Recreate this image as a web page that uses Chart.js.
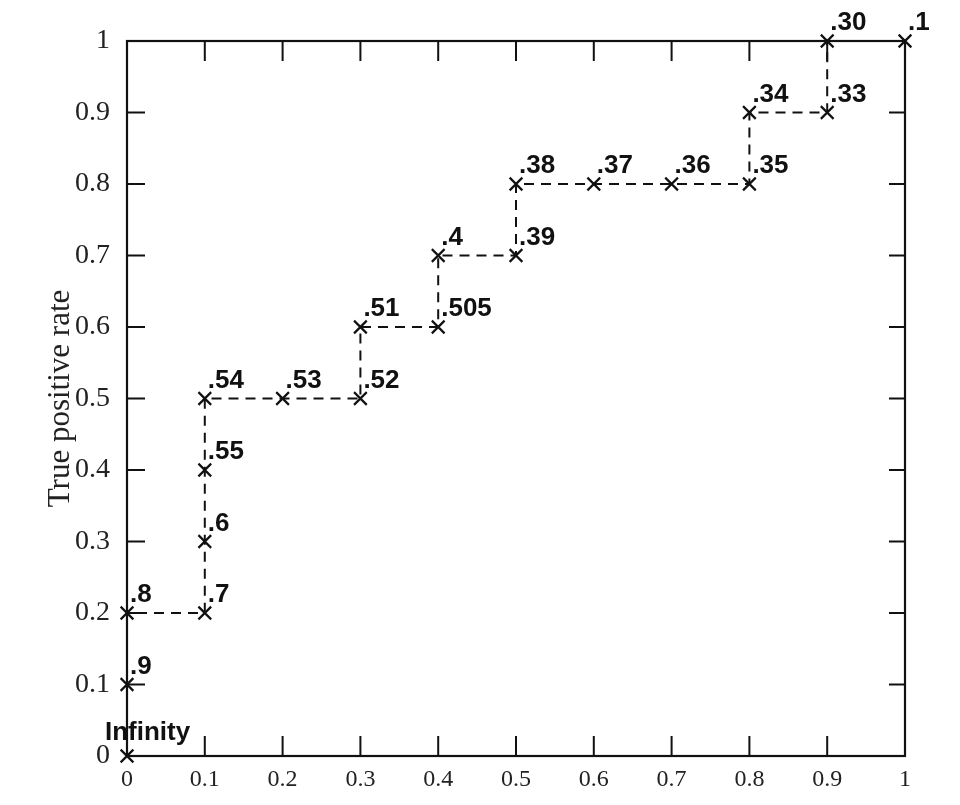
<!DOCTYPE html>
<html>
<head>
<meta charset="utf-8">
<script src="https://cdn.jsdelivr.net/npm/chart.js@4"></script>
<style>
  html, body { margin: 0; padding: 0; background: #fff; }
  #wrap { width: 960px; height: 805px; }
</style>
</head>
<body>
<div id="wrap"><canvas id="c" width="960" height="805"></canvas></div>
<script>
// ---- data ----
const fpr = [0, 0, 0, 0.1, 0.1, 0.1, 0.1, 0.2, 0.3, 0.3, 0.4, 0.4, 0.5, 0.5, 0.6, 0.7, 0.8, 0.8, 0.9, 0.9, 1];
const tpr = [0, 0.1, 0.2, 0.2, 0.3, 0.4, 0.5, 0.5, 0.5, 0.6, 0.6, 0.7, 0.7, 0.8, 0.8, 0.8, 0.8, 0.9, 0.9, 1, 1];
const thresholds = ['Infinity', '.9', '.8', '.7', '.6', '.55', '.54', '.53', '.52', '.51', '.505', '.4', '.39', '.38', '.37', '.36', '.35', '.34', '.33', '.30', '.1'];
const tickValues = [0, 0.1, 0.2, 0.3, 0.4, 0.5, 0.6, 0.7, 0.8, 0.9, 1];
const tickLabels = ['0', '0.1', '0.2', '0.3', '0.4', '0.5', '0.6', '0.7', '0.8', '0.9', '1'];
const yTitle = 'True positive rate';

const points = fpr.map((x, i) => ({ x: x, y: tpr[i] }));

const frameAndTicks = {
  id: 'frameAndTicks',
  afterDatasetsDraw(chart) {
    const ctx = chart.ctx, a = chart.chartArea;
    const x = chart.scales.x, y = chart.scales.y;
    ctx.save();
    ctx.setLineDash([]);
    ctx.strokeStyle = '#111';
    ctx.lineWidth = 2.2;
    ctx.strokeRect(a.left, a.top, a.right - a.left, a.bottom - a.top);
    ctx.lineWidth = 2;
    ctx.beginPath();
    tickValues.forEach(v => {
      if (v === 0 || v === 1) return;
      const px = x.getPixelForValue(v);
      ctx.moveTo(px, a.bottom); ctx.lineTo(px, a.bottom - 20);
      ctx.moveTo(px, a.top); ctx.lineTo(px, a.top + 20);
      const py = y.getPixelForValue(v);
      ctx.moveTo(a.left, py); ctx.lineTo(a.left + 18, py);
      ctx.moveTo(a.right, py); ctx.lineTo(a.right - 16, py);
    });
    ctx.stroke();
    ctx.restore();
  },
  afterDraw(chart) {
    const ctx = chart.ctx;
    const meta = chart.getDatasetMeta(0);
    ctx.save();
    ctx.fillStyle = '#111';
    ctx.font = 'bold 26px "Liberation Sans", Arial, sans-serif';
    ctx.textBaseline = 'alphabetic';
    ctx.textAlign = 'left';
    meta.data.forEach((pt, i) => {
      const t = thresholds[i];
      if (t === 'Infinity') {
        ctx.fillText(t, pt.x - 22, pt.y - 16);
      } else {
        ctx.fillText(t, pt.x + 3, pt.y - 11);
      }
    });
    ctx.restore();
  }
};

new Chart(document.getElementById('c'), {
  type: 'scatter',
  plugins: [frameAndTicks],
  data: {
    datasets: [{
      data: points,
      showLine: true,
      borderColor: '#111',
      borderWidth: 2,
      borderDash: [10, 7],
      tension: 0,
      pointStyle: 'crossRot',
      pointRadius: 9,
      pointBorderWidth: 2.2,
      pointBorderColor: '#111',
      pointBackgroundColor: '#111',
      clip: false
    }]
  },
  options: {
    responsive: false,
    animation: false,
    events: [],
    layout: { padding: { top: 41, right: 55, left: 0, bottom: 0 } },
    plugins: { legend: { display: false }, tooltip: { enabled: false } },
    scales: {
      x: {
        type: 'linear', min: 0, max: 1,
        afterBuildTicks(s) { s.ticks = tickValues.map(v => ({ value: v })); },
        afterFit(s) { s.height = 49; },
        grid: { display: false },
        border: { display: false },
        ticks: {
          padding: 1,
          color: '#222',
          font: { family: '"Liberation Serif", "Times New Roman", serif', size: 24 },
          callback: (v, i) => tickLabels[i]
        }
      },
      y: {
        type: 'linear', min: 0, max: 1,
        afterBuildTicks(s) { s.ticks = tickValues.map(v => ({ value: v })); },
        afterFit(s) { s.width = 127; },
        grid: { display: false },
        border: { display: false },
        title: {
          display: true,
          text: yTitle,
          color: '#222',
          font: { family: '"Liberation Serif", "Times New Roman", serif', size: 31 },
          padding: { top: 42, bottom: 0 }
        },
        ticks: {
          padding: 9,
          color: '#222',
          font: { family: '"Liberation Serif", "Times New Roman", serif', size: 28 },
          callback: (v, i) => tickLabels[i]
        }
      }
    }
  }
});
</script>
</body>
</html>
